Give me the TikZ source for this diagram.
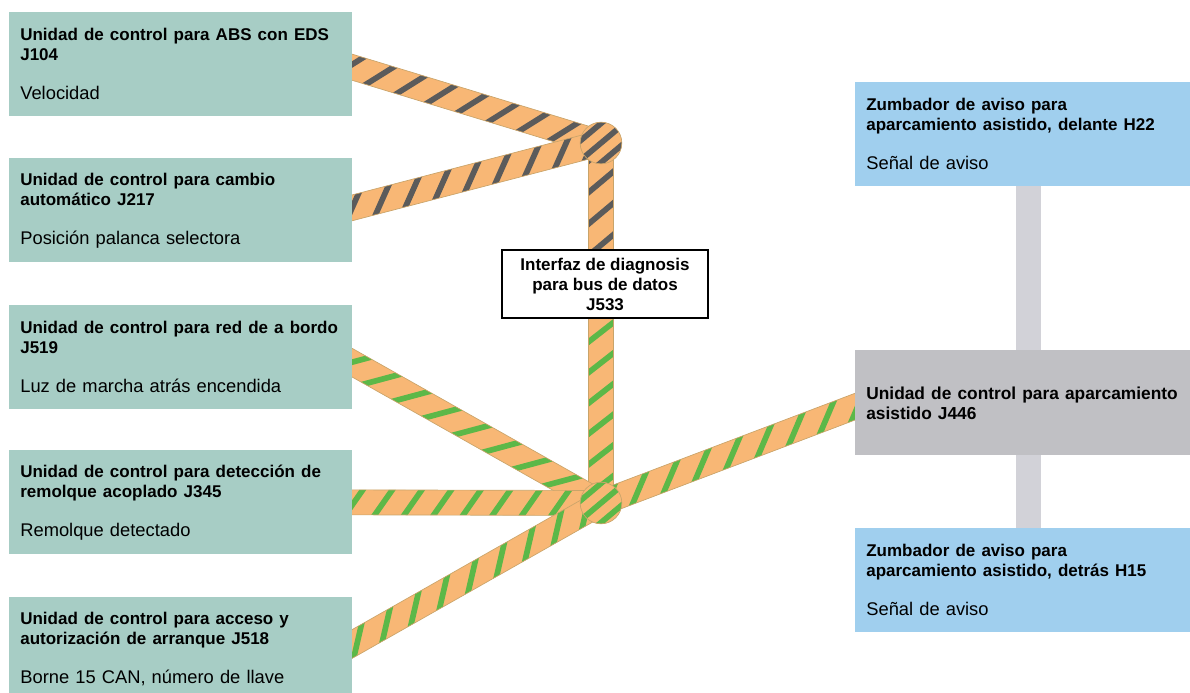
\documentclass[tikz,border=0pt]{standalone}
\usepackage{fontspec}
\setmainfont{Liberation Sans}
\usetikzlibrary{calc}
\pgfdeclarelayer{back}
\pgfsetlayers{back,main}

\definecolor{boxteal}{HTML}{A7CDC5}
\definecolor{boxblue}{HTML}{A0CFEE}
\definecolor{boxgrey}{HTML}{C0C0C4}
\definecolor{linkgrey}{HTML}{D2D2D8}
\definecolor{busorange}{HTML}{F8B775}
\definecolor{busedge}{HTML}{C9A46A}
\definecolor{busdark}{HTML}{5B5B5B}
\definecolor{busgreen}{HTML}{5CB848}

% bus wire: from, to, stripe colour, stripe angle
\newcommand\buswire[4]{%
  \path[wire,path picture={%
      \foreach \k in {-25,...,25}
        \draw[#3,line width=3.4pt] ($(path picture bounding box.center)+(#4+90:\k*14.5pt)$)
          ++(#4:-400pt) -- ++(#4:800pt);}]
    ($(#1)!7.5pt!90:(#2)$) -- ($(#2)!7.5pt!-90:(#1)$) --
    ($(#2)!7.5pt!90:(#1)$) -- ($(#1)!7.5pt!-90:(#2)$) -- cycle;}

\begin{document}
\begin{tikzpicture}[x=0.6pt,y=-0.6pt,
  ecu/.style={rectangle,fill=boxteal,anchor=north west,minimum height=62.4pt,
    text width=192.6pt,inner xsep=6.6pt,align=left,font=\fontsize{11}{12}\selectfont},
  buzzer/.style={ecu,fill=boxblue,text width=200pt},
  park/.style={buzzer,fill=boxgrey,minimum height=63pt},
  diag/.style={rectangle,draw=black,line width=1.2pt,fill=white,align=center,
    minimum width=124pt,minimum height=40.8pt,inner sep=2pt,
    font=\fontsize{10.2}{12}\selectfont\bfseries},
  wire/.style={fill=busorange,draw=busedge,line width=0.4pt},
  junction/.style={circle,minimum size=25pt,inner sep=0pt,fill=busorange,
    draw=busedge,line width=0.4pt,path picture={%
      \foreach \k in {-3,...,3}
        \draw[#1,line width=3.4pt] ($(path picture bounding box.center)+(130:\k*9pt)$)
          ++(40:-20pt) -- ++(40:40pt);}},
  link/.style={line width=15pt,draw=linkgrey}]
  \useasboundingbox (0,0) rectangle (1190,693);

  \node[ecu] (j104) at (9,12) {{\fontsize{10.2}{12}\selectfont\bfseries Unidad de control para ABS con EDS\\J104}\\[11.4pt]Velocidad};
  \node[ecu] (j217) at (9,158) {{\fontsize{10.2}{12}\selectfont\bfseries Unidad de control para cambio\\autom\'atico J217}\\[11.4pt]Posici\'on palanca selectora};
  \node[ecu] (j519) at (9,305) {{\fontsize{10.2}{12}\selectfont\bfseries Unidad de control para red de a bordo\\J519}\\[11.4pt]Luz de marcha atr\'as encendida};
  \node[ecu] (j345) at (9,450) {{\fontsize{10.2}{12}\selectfont\bfseries Unidad de control para detecci\'on de\\remolque acoplado J345}\\[11.4pt]Remolque detectado};
  \node[ecu] (j518) at (9,597) {{\fontsize{10.2}{12}\selectfont\bfseries Unidad de control para acceso y\\autorizaci\'on de arranque J518}\\[11.4pt]Borne 15 CAN, n\'umero de llave};

  \node[buzzer] (h22) at (855,82) {{\fontsize{10.2}{12}\selectfont\bfseries Zumbador de aviso para\\aparcamiento asistido, delante H22}\\[11.4pt]Se\~nal de aviso};
  \node[park] (j446) at (855,350) {\fontsize{10.4}{12}\selectfont\bfseries Unidad de control para aparcamiento\\asistido J446};
  \node[buzzer] (h15) at (855,528) {{\fontsize{10.2}{12}\selectfont\bfseries Zumbador de aviso para\\aparcamiento asistido, detr\'as H15}\\[11.4pt]Se\~nal de aviso};

  \node[diag] (j533) at (605,284) {Interfaz de diagnosis\\para bus de datos\\J533};

  \node[junction=busdark] (jtop) at (601,143) {};
  \node[junction=busgreen] (jbot) at (601,503) {};

  \coordinate (w104) at ([xshift=-6pt]j104.east);
  \coordinate (w217) at ([xshift=-6pt]j217.east);
  \coordinate (w519) at ([xshift=-6pt]j519.east);
  \coordinate (w345) at ([xshift=-6pt]j345.east);
  \coordinate (w518) at ([xshift=-6pt]j518.east);
  \coordinate (w446) at ([xshift=6pt]j446.west);
  \coordinate (jmid) at (jtop |- j533.center);

  \begin{pgfonlayer}{back}
    \draw[link] ([xshift=-3pt]h22.center) -- ([xshift=-3pt]j446.center);
    \draw[link] ([xshift=-3pt]j446.center) -- ([xshift=-3pt]h15.center);
    % comfort side
    \buswire{w104}{jtop}{busdark}{32}
    \buswire{w217}{jtop}{busdark}{66}
    \buswire{jtop}{jmid}{busdark}{40}
    % drive side
    \buswire{jmid}{jbot}{busgreen}{38}
    \buswire{w519}{jbot}{busgreen}{15}
    \buswire{w345}{jbot}{busgreen}{55}
    \buswire{w518}{jbot}{busgreen}{77}
    \buswire{jbot}{w446}{busgreen}{67}
  \end{pgfonlayer}
\end{tikzpicture}
\end{document}
